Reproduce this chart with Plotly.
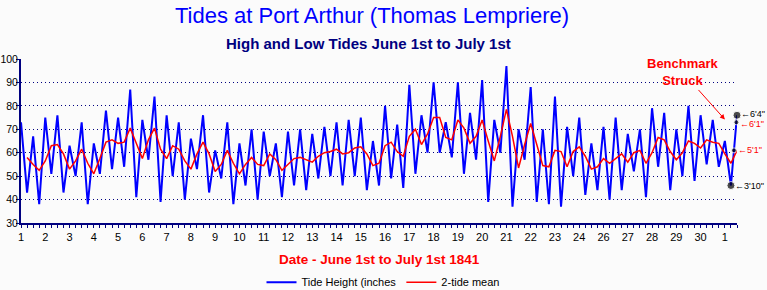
import plotly.graph_objects as go

# Tide heights (inches), high and low tides in sequence, June 1st to July 1st 1841
tide_height = [
    73, 43, 67, 38, 75, 51, 76, 43, 63, 50,
    73, 38, 64, 51, 78, 53, 75, 54, 87, 41,
    74, 57, 84, 39, 76, 50, 73, 40, 66, 53,
    76, 43, 61, 49, 73, 38, 64, 46, 70, 40,
    69, 50, 64, 41, 69, 46, 70, 44, 68, 49,
    71, 50, 73, 46, 74, 50, 75, 44, 65, 46,
    80, 49, 72, 45, 89, 51, 76, 60, 90, 60,
    73, 58, 90, 51, 77, 57, 91, 39, 74, 60,
    97, 37, 70, 57, 88, 39, 70, 38, 84, 37,
    71, 50, 75, 42, 64, 44, 71, 40, 75, 44,
    68, 52, 70, 41, 79, 54, 77, 44, 70, 50,
    80, 48, 76, 55, 74, 54, 65, 46, 76,
]

# 2-tide mean (inches), starting at the second tide
two_tide_mean = [
    58, 55, 52.5, 56.5, 63, 63.5, 59.5, 53, 56.5,
    61.5, 55.5, 51, 57.5, 64.5, 65.5, 64, 64.5, 70.5, 64,
    57.5, 65.5, 70.5, 61.5, 57.5, 63, 61.5, 56.5, 53, 59.5,
    64.5, 59.5, 52, 55, 61, 55.5, 51, 55, 58, 55,
    54.5, 59.5, 57, 52.5, 55, 57.5, 58, 57, 56, 58.5,
    60, 60.5, 61.5, 59.5, 60, 62, 62.5, 59.5, 54.5, 55.5,
    63, 64.5, 60.5, 58.5, 67, 70, 63.5, 68, 75, 75,
    66.5, 65.5, 74, 70.5, 64, 67, 74, 65, 56.5, 67,
    78.5, 67, 53.5, 63.5, 72.5, 63.5, 54.5, 54, 61, 60.5,
    54, 60.5, 62.5, 58.5, 53, 54, 57.5, 55.5, 57.5, 59.5,
    56, 60, 61, 55.5, 60, 66.5, 65.5, 60.5, 57, 60,
    65, 64, 62, 65.5, 64.5, 64, 59.5, 55.5, 61,
]

day_labels = [str(d) for d in range(1, 25)] + ["26", "27", "28", "29", "30", "1"]
tides_per_label = 4

benchmark_inches = [76, 73, 61, 46]
benchmark_text = ["\u21906'4\"", "\u21906'1\"", "\u21905'1\"", "\u21903'10\""]
benchmark_colors = ["black", "red", "red", "black"]
benchmark_sizes = [8, 5, 5, 8]
benchmark_yshift = [1, -2, 0, 0]

n = len(tide_height)
x_tide = list(range(1, n + 1))
x_mean = list(range(2, n + 1))
tickvals = [1 + tides_per_label * i for i in range(len(day_labels))]

# positions of the benchmark readings along the final rising tide segment
y0, y1 = tide_height[-2], tide_height[-1]
bench_x = [(n - 1) + (v - y0) / (y1 - y0) for v in benchmark_inches]

NAVY = "#000080"
FONT = "Liberation Sans, Arial, sans-serif"
NARROW = "Liberation Sans Narrow, Arial Narrow, Liberation Sans, sans-serif"

fig = go.Figure()
fig.add_trace(go.Scatter(
    x=x_tide, y=tide_height, mode="lines", name="Tide Height (inches",
    line=dict(color="#0000FF", width=2),
))
fig.add_trace(go.Scatter(
    x=x_mean, y=two_tide_mean, mode="lines", name="2-tide mean",
    line=dict(color="#FF0000", width=1.5),
))
fig.add_trace(go.Scatter(
    x=bench_x, y=benchmark_inches, mode="markers", showlegend=False,
    marker=dict(color="black", size=benchmark_sizes), cliponaxis=False,
))

annotations = []
for bx, by, bt, bc, bs in zip(bench_x, benchmark_inches, benchmark_text,
                              benchmark_colors, benchmark_yshift):
    annotations.append(dict(
        x=bx, y=by, xref="x", yref="y", text=bt, showarrow=False,
        xanchor="left", yanchor="middle", xshift=2, yshift=bs,
        font=dict(family=FONT, size=9, color=bc),
    ))

annotations += [
    dict(text="Tides at Port Arthur (Thomas Lempriere)", xref="paper", yref="paper",
         x=(372 - 21) / 716, y=(223 - 16) / 163.5, showarrow=False,
         xanchor="center", yanchor="middle",
         font=dict(family=FONT, size=22, color="#0000FF")),
    dict(text="<b>High and Low Tides June 1st to July 1st</b>", xref="paper", yref="paper",
         x=(368 - 21) / 716, y=(223 - 44) / 163.5, showarrow=False,
         xanchor="center", yanchor="middle",
         font=dict(family=FONT, size=15, color=NAVY)),
    dict(text="<b>Date - June 1st to July 1st 1841</b>", xref="paper", yref="paper",
         x=(379 - 21) / 716, y=(223 - 259) / 163.5, showarrow=False,
         xanchor="center", yanchor="middle",
         font=dict(family=NARROW, size=13.5, color="#FF0000")),
    dict(text="<b>Benchmark<br>Struck</b>", x=117.0, y=74.2, xref="x", yref="y",
         ax=-42, ay=-47, showarrow=True, arrowhead=2, arrowsize=1, arrowwidth=1,
         arrowcolor="#FF0000", standoff=0,
         font=dict(family=FONT, size=13, color="#FF0000")),
]

fig.update_layout(
    width=767, height=290,
    margin=dict(l=21, r=30, t=59, b=67, autoexpand=False),
    paper_bgcolor="#FBFBFB", plot_bgcolor="#FBFBFB",
    showlegend=True,
    legend=dict(orientation="h", x=(383 - 21) / 716, xanchor="center",
                y=(223 - 282) / 163.5, yanchor="middle",
                font=dict(family=FONT, size=11, color="black"),
                bgcolor="rgba(0,0,0,0)", itemwidth=30, tracegroupgap=0),
    annotations=annotations,
    xaxis=dict(
        range=[1, n], tickmode="array", tickvals=tickvals, ticktext=day_labels,
        showgrid=False, zeroline=False, showline=True, linecolor=NAVY, linewidth=2,
        ticks="outside", ticklen=3, tickcolor=NAVY, tickwidth=1, automargin=False,
        minor=dict(tickmode="linear", tick0=1, dtick=1, ticks="outside", ticklen=3,
                   tickcolor=NAVY, tickwidth=1, showgrid=False),
        tickfont=dict(family=FONT, size=11, color="black"),
    ),
    xaxis2=dict(
        range=[1, n], overlaying="x", anchor="y", side="bottom",
        tickmode="linear", tick0=1, dtick=1, ticks="inside", ticklen=3,
        tickcolor=NAVY, tickwidth=1, showticklabels=False, showgrid=False,
        zeroline=False, showline=False, automargin=False,
    ),
    yaxis=dict(
        range=[30, 100], dtick=10, showgrid=True, gridcolor=NAVY, gridwidth=1,
        griddash="1px,3px", zeroline=False, showline=True, linecolor=NAVY, linewidth=2,
        ticks="outside", ticklen=3, tickcolor=NAVY, automargin=False,
        ticklabelstandoff=-4,
        tickfont=dict(family=FONT, size=10.5, color="black"),
    ),
)

fig.write_html("out.html")
